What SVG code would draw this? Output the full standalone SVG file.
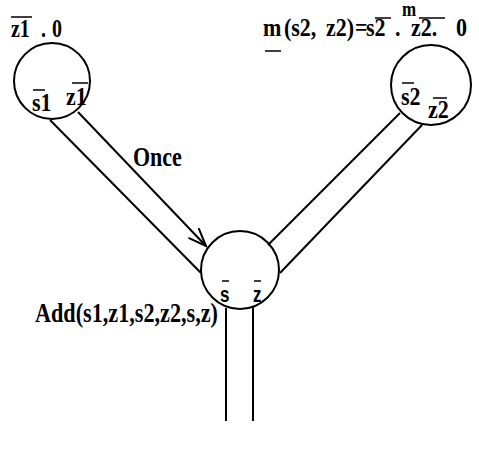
<svg xmlns="http://www.w3.org/2000/svg" width="479" height="449" viewBox="0 0 479 449">
<style>
.n{fill:none;stroke:#000;stroke-width:2}
.c{fill:none;stroke:#000;stroke-width:2}
.t{font-family:"Liberation Serif","Times New Roman",serif;font-weight:bold;fill:#000}
.ts{font-family:"Liberation Sans",Arial,sans-serif;font-weight:bold;fill:#000}
.b{stroke:#000;stroke-width:1.5}
</style>
<defs>
<marker id="arr" markerWidth="22" markerHeight="16" refX="20" refY="8" orient="auto" markerUnits="userSpaceOnUse">
<path d="M2,1 L20,8 L2,15" fill="none" stroke="#000" stroke-width="2"/>
</marker>
</defs>
<rect width="479" height="449" fill="#fff"/>
<g id="connectors">
<line class="c" x1="50" y1="120" x2="201" y2="273"/>
<line class="c" x1="78" y1="112" x2="206" y2="246" marker-end="url(#arr)"/>
<line class="c" x1="400" y1="113" x2="268" y2="245"/>
<line class="c" x1="422" y1="125" x2="280" y2="273"/>
<line class="c" x1="226" y1="308" x2="226" y2="421"/>
<line class="c" x1="253" y1="306" x2="253" y2="421"/>
<g transform="translate(133,166) scale(1,1.25)"><text class="t" font-size="22">Once</text></g>
</g>
<g id="node1">
<circle class="n" cx="52" cy="81" r="38"/>
<g transform="translate(11,37) scale(1,1.25)"><text class="t" font-size="20"><tspan x="0">z1</tspan><tspan x="30">.</tspan><tspan x="41">0</tspan></text></g>
<line class="b" x1="11" y1="17" x2="32" y2="17"/>
<g transform="translate(32,111) scale(1,1.15)"><text class="t" font-size="22">s1</text></g>
<line class="b" x1="33" y1="90" x2="45" y2="90"/>
<g transform="translate(66,105) scale(1,1.15)"><text class="t" font-size="22">z1</text></g>
<line class="b" x1="72" y1="83" x2="88" y2="83"/>
</g>
<g id="node2">
<circle class="n" cx="431" cy="85" r="40"/>
<g transform="translate(0,36) scale(1,1.15)"><text class="t" font-size="22"><tspan x="263">m</tspan><tspan x="284">(s2,</tspan><tspan x="326">z2)</tspan><tspan x="355">=</tspan><tspan x="366">s2</tspan><tspan x="395">.</tspan><tspan x="411">z2.</tspan><tspan x="456">0</tspan></text></g>
<g transform="translate(402,16) scale(1,1.2)"><text class="t" font-size="17">m</text></g>
<line class="b" x1="375" y1="18" x2="391" y2="18"/>
<line class="b" x1="419" y1="18" x2="445" y2="18"/>
<line class="b" x1="265" y1="51" x2="281" y2="51"/>
<g transform="translate(401,105) scale(1,1.15)"><text class="t" font-size="22">s2</text></g>
<line class="b" x1="402" y1="83" x2="414" y2="83"/>
<g transform="translate(428,118) scale(1,1.15)"><text class="t" font-size="22">z2</text></g>
<line class="b" x1="433" y1="98" x2="447" y2="98"/>
</g>
<g id="node3">
<g transform="translate(0,302) scale(1,1.3)"><text class="ts" font-size="17"><tspan x="220">s</tspan><tspan x="253">z</tspan></text></g>
<circle class="n" cx="240" cy="270" r="39"/>
<line class="b" x1="222" y1="281" x2="229" y2="281"/>
<line class="b" x1="254" y1="281" x2="261" y2="281"/>
<g transform="translate(35,322) scale(1,1.2)"><text class="t" font-size="22" textLength="183" lengthAdjust="spacingAndGlyphs">Add(s1,z1,s2,z2,s,z)</text></g>
</g>
</svg>
